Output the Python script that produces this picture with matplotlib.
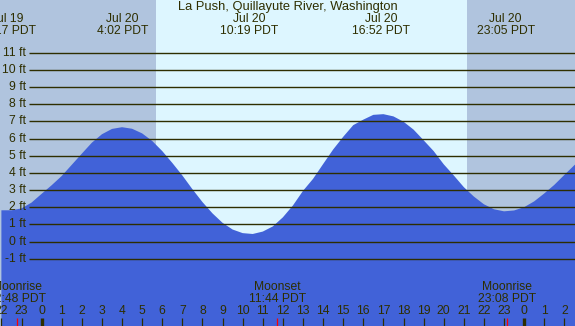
import matplotlib
matplotlib.use('Agg')
import matplotlib.pyplot as plt
from matplotlib.transforms import blended_transform_factory

plt.rcParams['font.family'] = ['Liberation Sans', 'DejaVu Sans']

# hours since Jul 20 00:00 PDT, tide height in ft
tide_hours = [-2, -1.5, -1, -0.5, 0, 0.5, 1, 1.5, 2, 2.5, 3, 3.5, 4, 4.5,
              5, 5.5, 6, 6.5, 7, 7.5, 8, 8.5, 9, 9.5, 10, 10.5, 11, 11.5,
              12, 12.5, 13, 13.5, 14, 14.5, 15, 15.5, 16, 16.5, 17, 17.5,
              18, 18.5, 19, 19.5, 20, 20.5, 21, 21.5, 22, 22.5, 23, 23.5,
              24, 24.5, 25, 25.5, 26, 26.5, 27]
tide_ft = [1.82, 1.82, 1.93, 2.27, 2.78, 3.28, 3.82, 4.47, 5.12, 5.76, 6.25,
           6.56, 6.66, 6.57, 6.30, 5.86, 5.27, 4.58, 3.85, 3.05, 2.30, 1.64,
           1.09, 0.70, 0.49, 0.44, 0.58, 0.88, 1.41, 2.10, 2.95, 3.65, 4.51,
           5.36, 6.10, 6.78, 7.10, 7.38, 7.42, 7.29, 6.98, 6.52, 5.90, 5.27,
           4.50, 3.85, 3.17, 2.62, 2.17, 1.88, 1.76, 1.81, 2.00, 2.34, 2.80,
           3.30, 3.88, 4.45, 4.98]

extreme_hours = [-1.72, 4.03, 10.32, 16.87, 23.08]
extreme_dates = ['Jul 19', 'Jul 20', 'Jul 20', 'Jul 20', 'Jul 20']
extreme_times = ['22:17 PDT', '4:02 PDT', '10:19 PDT', '16:52 PDT', '23:05 PDT']

moon_hours = [-1.2, 11.73, 23.13]
moon_names = ['Moonrise', 'Moonset', 'Moonrise']
moon_times = ['22:48 PDT', '11:44 PDT', '23:08 PDT']

sunrise = 5.69
sunset = 21.16
levels = [-1, 0, 1, 2, 3, 4, 5, 6, 7, 8, 9, 10, 11]
hour_ticks = list(range(-2, 27))

night = '#b0c4de'
day = '#ddf6ff'
water = '#4162d8'
ink = '#2e2e00'
fs = 8.7

x0, x1 = -2.07, 26.53
y0, y1 = -4.92, 14.07

fig = plt.figure(figsize=(5.75, 3.26), dpi=100)
ax = fig.add_axes([0, 0, 1, 1])
ax.set_xlim(x0, x1)
ax.set_ylim(y0, y1)
ax.axis('off')

ax.axvspan(x0, sunrise, color=night, lw=0)
ax.axvspan(sunrise, sunset, color=day, lw=0)
ax.axvspan(sunset, x1, color=night, lw=0)

ax.fill_between(tide_hours, y0, tide_ft, color=water, lw=0)

ax.hlines(levels, -0.63, x1, color=ink, lw=1.0)
for lv in levels:
    ax.text(-0.78, lv, '%d ft' % lv, ha='right', va='center',
            fontsize=fs, color=ink)

tr = blended_transform_factory(ax.transData, ax.transAxes)


def fy(px):
    return 1 - px / 326.0


ax.text(12.23, fy(7), 'La Push, Quillayute River, Washington', transform=tr,
        ha='center', va='center', fontsize=9.3, color=ink)
for h, d, t in zip(extreme_hours, extreme_dates, extreme_times):
    ax.text(h, fy(19.5), d, transform=tr, ha='center', va='center',
            fontsize=fs, color=ink)
    ax.text(h, fy(31.5), t, transform=tr, ha='center', va='center',
            fontsize=fs, color=ink)

for h, n, t in zip(moon_hours, moon_names, moon_times):
    ax.text(h, fy(287.5), n, transform=tr, ha='center', va='center',
            fontsize=fs, color=ink)
    ax.text(h, fy(299.5), t, transform=tr, ha='center', va='center',
            fontsize=fs, color=ink)
    ax.vlines(h, 0, fy(318), transform=tr, color='red', lw=0.9)

for h in hour_ticks:
    ax.text(h, fy(311.5), str(h % 24), transform=tr, ha='center',
            va='center', fontsize=fs, color=ink)
    ax.vlines(h, 0, fy(318), transform=tr, color=ink,
              lw=2.4 if h % 24 == 0 else 0.9)

fig.savefig('out.png', dpi=100)
